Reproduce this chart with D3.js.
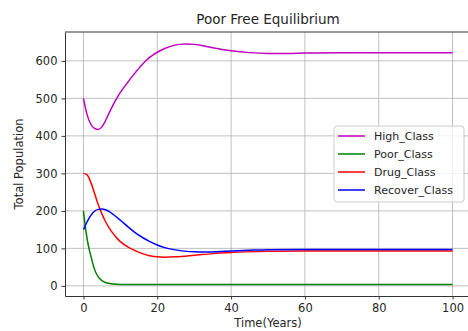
<!DOCTYPE html>
<html>
<head>
<meta charset="utf-8">
<script src="https://cdn.jsdelivr.net/npm/d3@7"></script>
<style>
  body { margin: 0; background: #fff; }
  svg { font-family: "DejaVu Sans", sans-serif; display: block; }
</style>
</head>
<body>
<div id="chart"></div>
<script>
(function() {

    const seriesNames = ["High_Class", "Poor_Class", "Drug_Class", "Recover_Class"];
    const seriesColors = ["#bf00bf", "#008000", "#ff0000", "#0000ff"];

    const highClass = [
        [0, 500], [1, 456], [2, 431], [3, 420], [4, 417], [5, 424], [6, 441], [7, 462],
        [8, 482], [9, 500], [10, 516], [11, 530], [12, 543], [13, 556], [14, 568],
        [15, 580], [16, 591], [17, 601], [18, 610], [19, 617], [20, 623], [22, 633],
        [24, 640], [26, 644], [28, 645], [30, 644], [32, 641], [35, 635], [40, 627],
        [45, 622], [50, 620], [55, 620], [60, 621], [70, 622], [80, 622], [90, 622], [100, 622]
    ];
    const poorClass = [
        [0, 200], [0.5, 158], [1, 125], [1.5, 100], [2, 80], [3, 44], [4, 24], [5, 14],
        [6, 9], [7, 6.5], [8, 5], [10, 4], [20, 4], [40, 4], [60, 4], [80, 4], [100, 4]
    ];
    const drugClass = [
        [0, 300], [1, 296], [2, 276], [3, 247], [4, 217], [5, 192], [6, 171], [7, 154],
        [8, 140], [9, 128], [10, 118], [12, 104], [14, 94], [16, 86], [18, 80.5], [20, 77.5],
        [22, 76.5], [25, 77.5], [30, 81.5], [35, 86], [40, 89], [50, 92], [60, 93], [80, 93], [100, 93]
    ];
    const recoverClass = [
        [0, 150], [1, 171], [2, 188], [3, 199], [4, 204], [5, 205], [6, 203], [7, 198],
        [8, 191], [10, 175], [12, 158], [14, 142], [16, 129], [18, 118], [20, 109],
        [22, 102], [25, 96], [28, 92], [30, 91], [33, 90.5], [36, 91], [40, 93], [45, 95],
        [50, 96.5], [60, 97], [80, 97], [100, 97]
    ];
    const xTicks = [0, 20, 40, 60, 80, 100];
    const yTicks = [0, 100, 200, 300, 400, 500, 600];

    const allSeries = [highClass, poorClass, drugClass, recoverClass];

    const width = 468;
    const height = 331;
    const margin = {top: 32, right: -3, bottom: 35, left: 65};

    const svg = d3.select("#chart").append("svg")
        .attr("width", width)
        .attr("height", height);

    const x = d3.scaleLinear()
        .domain([-5, 105])
        .range([margin.left, width - margin.right]);

    const y = d3.scaleLinear()
        .domain([-27, 677])
        .range([height - margin.bottom, margin.top]);

    // grid
    svg.append("g")
        .selectAll("line")
        .data(xTicks)
        .join("line")
        .attr("x1", d => x(d)).attr("x2", d => x(d))
        .attr("y1", y.range()[0]).attr("y2", y.range()[1])
        .attr("stroke", "#b0b0b0").attr("stroke-width", 0.8);
    svg.append("g")
        .selectAll("line")
        .data(yTicks)
        .join("line")
        .attr("x1", x.range()[0]).attr("x2", x.range()[1])
        .attr("y1", d => y(d)).attr("y2", d => y(d))
        .attr("stroke", "#b0b0b0").attr("stroke-width", 0.8);

    const line = d3.line()
        .x(d => x(d[0]))
        .y(d => y(d[1]))
        .curve(d3.curveMonotoneX);

    svg.append("g")
        .selectAll("path")
        .data(allSeries)
        .join("path")
        .attr("d", line)
        .attr("fill", "none")
        .attr("stroke", (d, i) => seriesColors[i])
        .attr("stroke-width", 1.5);

    // axes
    const xAxis = svg.append("g")
        .attr("transform", `translate(0,${height - margin.bottom})`)
        .call(d3.axisBottom(x).tickValues(xTicks).tickSize(3.5).tickSizeOuter(0).tickPadding(4))
        .attr("font-size", "11.5px");
    const yAxis = svg.append("g")
        .attr("transform", `translate(${margin.left},0)`)
        .call(d3.axisLeft(y).tickValues(yTicks).tickSize(3.5).tickSizeOuter(0).tickPadding(4))
        .attr("font-size", "11.5px");
    [xAxis, yAxis].forEach(g => {
        g.select(".domain").attr("stroke", "#333").attr("stroke-width", 1);
        g.selectAll(".tick line").attr("stroke", "#333");
        g.selectAll(".tick text").attr("fill", "#262626").attr("font-family", "DejaVu Sans");
    });

    // top spine
    svg.append("line")
        .attr("x1", x.range()[0]).attr("x2", x.range()[1])
        .attr("y1", margin.top).attr("y2", margin.top)
        .attr("stroke", "#333").attr("stroke-width", 1);

    svg.append("text")
        .attr("x", 268).attr("y", 24)
        .attr("text-anchor", "middle")
        .attr("font-size", "13.5px")
        .attr("fill", "#262626")
        .text("Poor Free Equilibrium");

    svg.append("text")
        .attr("x", 268).attr("y", 327)
        .attr("text-anchor", "middle")
        .attr("font-size", "11.5px")
        .attr("fill", "#262626")
        .text("Time(Years)");

    svg.append("text")
        .attr("transform", `translate(23,${(margin.top + height - margin.bottom) / 2}) rotate(-90)`)
        .attr("text-anchor", "middle")
        .attr("font-size", "11.5px")
        .attr("fill", "#262626")
        .text("Total Population");

    // legend
    const legend = svg.append("g").attr("transform", "translate(334,126)");
    legend.append("rect")
        .attr("width", 130).attr("height", 76)
        .attr("rx", 3)
        .attr("fill", "white").attr("fill-opacity", 0.8)
        .attr("stroke", "#cccccc");
    seriesNames.forEach((name, i) => {
        const row = legend.append("g").attr("transform", `translate(0,${10 + i * 18})`);
        row.append("line")
            .attr("x1", 4).attr("x2", 31)
            .attr("stroke", seriesColors[i]).attr("stroke-width", 1.5);
        row.append("text")
            .attr("x", 40).attr("y", 4)
            .attr("font-size", "11px")
            .attr("fill", "#262626")
            .text(name);
    });

})();
</script>
</body>
</html>
